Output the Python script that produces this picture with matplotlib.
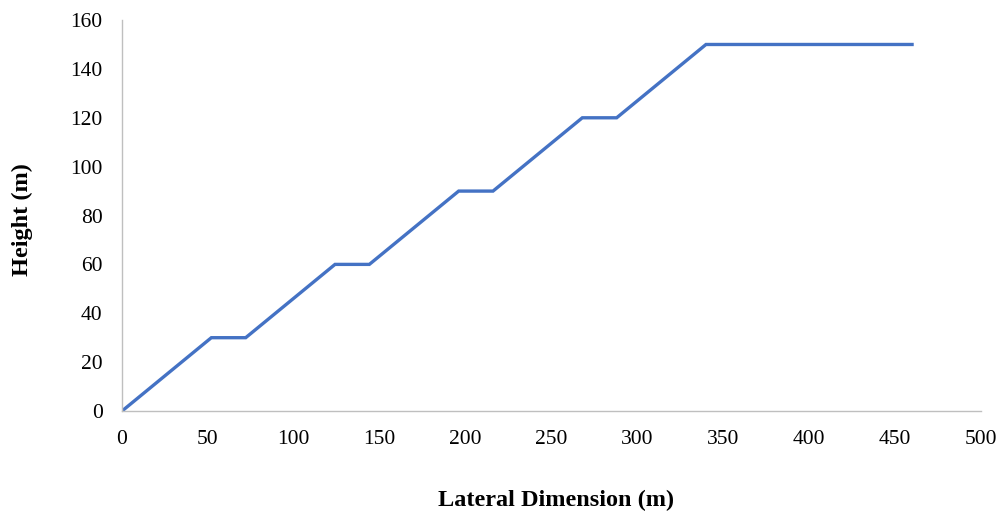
import matplotlib
matplotlib.use("Agg")
import matplotlib.pyplot as plt

# datos del perfil
lateral = [0, 52, 72, 124, 144, 196, 216, 268, 288, 340, 460]
altura = [0, 30, 30, 60, 60, 90, 90, 120, 120, 150, 150]

x_ticks = [0, 50, 100, 150, 200, 250, 300, 350, 400, 450, 500]
y_ticks = [0, 20, 40, 60, 80, 100, 120, 140, 160]

plt.rcParams['font.family'] = ['Liberation Serif', 'DejaVu Serif']

fig = plt.figure(figsize=(10.02, 5.14), dpi=100)
ax = fig.add_axes([0.1218, 0.2004, 0.857, 0.7606])

ax.plot(lateral, altura, color='#4472C4', linewidth=2.4, solid_joinstyle='miter')

ax.set_xlim(0, 500)
ax.set_ylim(0, 160)
ax.set_xticks(x_ticks)
ax.set_yticks(y_ticks)

for s in ['top', 'right']:
    ax.spines[s].set_visible(False)
ax.spines['left'].set_color('#BFBFBF')
ax.spines['bottom'].set_color('#BFBFBF')
ax.spines['left'].set_linewidth(1.0)
ax.spines['bottom'].set_linewidth(1.0)

ax.tick_params(axis='both', length=0, labelsize=15.5)
ax.tick_params(axis='x', pad=14)
ax.tick_params(axis='y', pad=14)

ax.set_xlabel('Lateral Dimension (m)', fontsize=17.5, fontweight='bold')
ax.set_ylabel('Height (m)', fontsize=17.5, fontweight='bold')
# posiciones de las etiquetas como en la imagen original
ax.xaxis.set_label_coords(0.505, -0.203)
ax.yaxis.set_label_coords(-0.1036, 0.49)

plt.savefig('out.png', dpi=100)
plt.close(fig)
